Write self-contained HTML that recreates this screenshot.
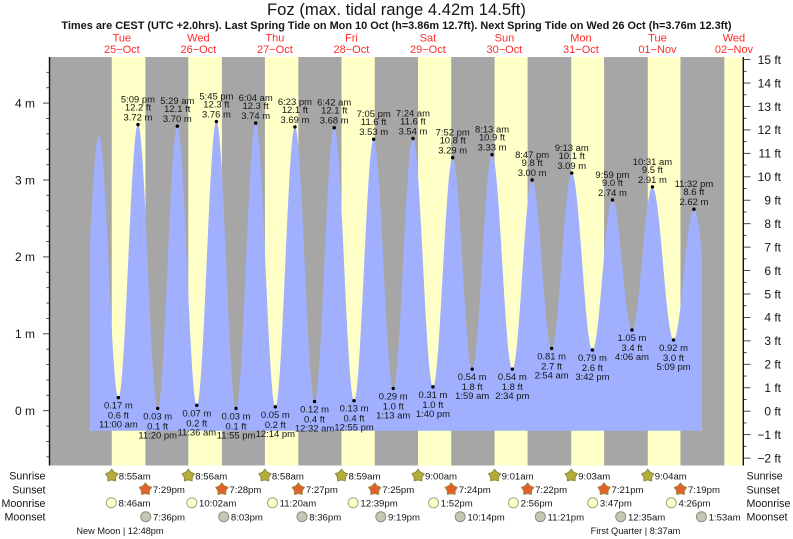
<!DOCTYPE html>
<html lang="en">
<head>
<meta charset="utf-8">
<title>Foz tide chart</title>
<style>
html,body{margin:0;padding:0;background:#fff;width:793px;height:539px;overflow:hidden}
svg{display:block;font-family:"Liberation Sans",sans-serif;filter:blur(0.3px)}
text{fill:#151515}
</style>
</head>
<body>
<svg id="chart" xmlns="http://www.w3.org/2000/svg" width="793" height="539" viewBox="0 0 793 539">
  <text x="396.5" y="15" text-anchor="middle" font-size="16.65">Foz (max. tidal range 4.42m 14.5ft)</text>
  <text x="396.5" y="29" text-anchor="middle" font-size="10.93" font-weight="bold">Times are CEST (UTC +2.0hrs). Last Spring Tide on Mon 10 Oct (h=3.86m 12.7ft). Next Spring Tide on Wed 26 Oct (h=3.76m 12.3ft)</text>
  <rect x="50" y="57" width="693" height="408.5" fill="#a6a6a6"/>
  <g id="bands"></g>
  <path id="tide" fill="#a0b0ff"></path>
  <g id="axes"></g>
  <g id="days"></g>
  <g id="marks"></g>
  <g id="astro"></g>
  <text x="120" y="534" text-anchor="middle" font-size="9.2">New Moon | 12:48pm</text>
  <text x="635.5" y="534" text-anchor="middle" font-size="9.2">First Quarter | 8:37am</text>
</svg>
<script>
// Tide extremes. Entries with an empty feet label are unlabelled lead-in / lead-out turning points.
const tideDays = [-1,0,0,0,0,1,1,1,1,2,2,2,3,3,3,3,4,4,4,4,5,5,5,5,6,6,6,6,7,7,7,7,8];
const tideTimes = ["10:42 pm","4:55 am","11:00 am","5:09 pm","11:20 pm","5:29 am","11:36 am","5:45 pm","11:55 pm","6:04 am","12:14 pm","6:23 pm","12:32 am","6:42 am","12:55 pm","7:05 pm","1:13 am","7:24 am","1:40 pm","7:52 pm","1:59 am","8:13 am","2:34 pm","8:47 pm","2:54 am","9:13 am","3:42 pm","9:59 pm","4:06 am","10:31 am","5:09 pm","11:32 pm","5:48 am"];
const tideMeters = [0.30,3.58,0.17,3.72,0.03,3.70,0.07,3.76,0.03,3.74,0.05,3.69,0.12,3.68,0.13,3.53,0.29,3.54,0.31,3.29,0.54,3.33,0.54,3.00,0.81,3.09,0.79,2.74,1.05,2.91,0.92,2.62,1.00];
const tideFeet = ["","","0.6","12.2","0.1","12.1","0.2","12.3","0.1","12.3","0.2","12.1","0.4","12.1","0.4","11.6","1.0","11.6","1.0","10.8","1.8","10.9","1.8","9.8","2.7","10.1","2.6","9.0","3.4","9.5","3.0","8.6",""];
const curveStartHour = 2.1;
const curveEndHour = 194.07;
const curveFloorMeters = -0.26;

const dayNames = ["Tue","Wed","Thu","Fri","Sat","Sun","Mon","Tue","Wed"];
const dayDates = ["25\u2212Oct","26\u2212Oct","27\u2212Oct","28\u2212Oct","29\u2212Oct","30\u2212Oct","31\u2212Oct","01\u2212Nov","02\u2212Nov"];
const sunriseTimes = ["8:55am","8:56am","8:58am","8:59am","9:00am","9:01am","9:03am","9:04am","9:05am"];
const sunsetTimes = ["7:29pm","7:28pm","7:27pm","7:25pm","7:24pm","7:22pm","7:21pm","7:19pm"];
const moonriseDays = [0,1,2,3,4,5,6,7];
const moonriseTimes = ["8:46am","10:02am","11:20am","12:39pm","1:52pm","2:56pm","3:47pm","4:26pm"];
const moonsetDays = [0,1,2,3,4,5,7,8];
const moonsetTimes = ["7:36pm","8:03pm","8:36pm","9:19pm","10:14pm","11:21pm","12:35am","1:53am"];
const meterTicks = [0,1,2,3,4];
const feetTicks = [-2,-1,0,1,2,3,4,5,6,7,8,9,10,11,12,13,14,15];

const NS = "http://www.w3.org/2000/svg";
const PLOT_L = 50, PLOT_R = 743, PLOT_T = 57, PLOT_B = 465.5;
function xAt(hours){ return 83.3 + hours * 3.188; }
function yAt(meters){ return 410.7 - meters * 76.9; }
function yFt(feet){ return 411.2 - feet * 23.44; }
function hourOf(day, label){
  const m = label.match(/(\d+):(\d+)\s*(am|pm)/);
  let h = (+m[1]) % 12;
  if (m[3] === "pm") h += 12;
  return day * 24 + h + (+m[2]) / 60;
}
function add(parent, tag, attrs){
  const el = document.createElementNS(NS, tag);
  for (const k in attrs) el.setAttribute(k, attrs[k]);
  parent.appendChild(el);
  return el;
}
const bands = document.getElementById("bands");
const axes = document.getElementById("axes");
const daysG = document.getElementById("days");
const marks = document.getElementById("marks");
const astro = document.getElementById("astro");

// daylight bands
sunriseTimes.forEach(function(t, i){
  const x0 = xAt(hourOf(i, t));
  const x1 = i < sunsetTimes.length ? xAt(hourOf(i, sunsetTimes[i])) : PLOT_R;
  const r = add(bands, "rect", {x:x0, y:PLOT_T, width:x1-x0, height:PLOT_B-PLOT_T, fill:"#ffffc8"});
  
  
});

// tide curve: cosine between successive turning points
const tideHours = tideTimes.map(function(t, i){ return hourOf(tideDays[i], t); });
function levelAt(h){
  for (let i = 0; i < tideHours.length - 1; i++){
    if (h >= tideHours[i] && h <= tideHours[i+1]){
      const f = (h - tideHours[i]) / (tideHours[i+1] - tideHours[i]);
      return tideMeters[i] + (tideMeters[i+1] - tideMeters[i]) * (1 - Math.cos(Math.PI * f)) / 2;
    }
  }
  return curveFloorMeters;
}
let d = "M" + xAt(curveStartHour).toFixed(2) + " " + yAt(curveFloorMeters).toFixed(2);
const sampleHours = new Set(tideHours.filter(function(h){ return h > curveStartHour && h < curveEndHour; }));
for (let h = curveStartHour; h < curveEndHour; h += 0.2) sampleHours.add(h);
sampleHours.add(curveEndHour);
Array.from(sampleHours).sort(function(a,b){ return a-b; }).forEach(function(h){
  d += "L" + xAt(h).toFixed(2) + " " + yAt(levelAt(h)).toFixed(2);
});
d += "L" + xAt(curveEndHour).toFixed(2) + " " + yAt(curveFloorMeters).toFixed(2) + "Z";
document.getElementById("tide").setAttribute("d", d);

// axes
const leftLine = add(axes, "line", {x1:49.5, x2:49.5, y1:PLOT_T, y2:PLOT_B, stroke:"#111", "stroke-width":1.4});


const rightLine = add(axes, "line", {x1:743.3, x2:743.3, y1:PLOT_T, y2:PLOT_B, stroke:"#111", "stroke-width":1.4});


for (let k = -3; k <= 23; k++){
  const m = k * 0.2;
  const y = yAt(m);
  if (y < PLOT_T || y > PLOT_B) continue;
  const major = k % 5 === 0;
  const tk = add(axes, "line", {x1:major ? 43 : 46.5, x2:49.5, y1:y, y2:y, stroke:"#333", "stroke-width":0.9});
  
  
}
meterTicks.forEach(function(m){
  const t = add(axes, "text", {x:35, y:yAt(m)+4.3, "text-anchor":"end", "font-size":12});
  t.textContent = m + " m";
  
  
});
for (let k = -5; k <= 30; k++){
  const y = yFt(k / 2);
  if (y < PLOT_T || y > PLOT_B) continue;
  const major = k % 2 === 0;
  const tk = add(axes, "line", {x1:743.3, x2:major ? 750.5 : 746.5, y1:y, y2:y, stroke:"#333", "stroke-width":0.9});
  
  
}
feetTicks.forEach(function(f){
  const t = add(axes, "text", {x:781, y:yFt(f)+4.3, "text-anchor":"end", "font-size":12});
  t.textContent = (f < 0 ? "\u2212" + (-f) : f) + " ft";
  
  
});

// day labels
dayNames.forEach(function(n, i){
  const x = xAt(i * 24 + 12) + 0.3;
  const a = add(daysG, "text", {x:x, y:41.5, "text-anchor":"middle", "font-size":11, style:"fill:#ff2a2a"});
  a.textContent = n;
  
  
  const b = add(daysG, "text", {x:x, y:53, "text-anchor":"middle", "font-size":11, style:"fill:#ff2a2a"});
  b.textContent = dayDates[i];
  
  
});

// extremes dots and three-line labels
tideMeters.forEach(function(m, i){
  if (tideFeet[i] === "") return;
  const x = xAt(tideHours[i]);
  const y = yAt(m);
  const isHigh = m > tideMeters[i-1];
  const dot = add(marks, "circle", {cx:x, cy:y, r:1.7, fill:"#000"});
  
  
  const mText = m.toFixed(2) + " m";
  const ftText = tideFeet[i] + " ft";
  const lines = isHigh ? [[tideTimes[i], -22], [ftText, -14], [mText, -4]]
                       : [[mText, 11], [ftText, 21], [tideTimes[i], 30]];
  lines.forEach(function(l){
    const t = add(marks, "text", {x:x, y:y+l[1], "text-anchor":"middle", "font-size":9.45});
    t.textContent = l[0];
    
    
  });
});

// astronomy rows
function star(cx, cy, fill, stroke){
  let pts = [];
  for (let i = 0; i < 10; i++){
    const r = i % 2 === 0 ? 6.4 : 4.2;
    const a = -Math.PI / 2 + i * Math.PI / 5;
    pts.push((cx + r * Math.cos(a)).toFixed(2) + "," + (cy + r * Math.sin(a)).toFixed(2));
  }
  return add(astro, "polygon", {points:pts.join(" "), fill:fill, stroke:stroke, "stroke-width":1});
}
function astroLabel(x, y, label){
  const t = add(astro, "text", {x:x, y:y, "font-size":9.6});
  t.textContent = label;
  
  
}
const ROW_RISE = 475.7, ROW_SET = 489.3, ROW_MR = 502.8, ROW_MS = 516.7;
sunriseTimes.slice(0, 8).forEach(function(t, i){
  const x = xAt(hourOf(i, t));
  const s = star(x, ROW_RISE, "#b4ad3a", "#8f8a40");
  
  
  astroLabel(x + 7, ROW_RISE + 3.7, t);
});
sunsetTimes.forEach(function(t, i){
  const x = xAt(hourOf(i, t));
  const s = star(x, ROW_SET, "#e2602a", "#a08a40");
  
  
  astroLabel(x + 7.5, ROW_SET + 3.7, t);
});
moonriseTimes.forEach(function(t, i){
  const x = xAt(hourOf(moonriseDays[i], t));
  const c = add(astro, "circle", {cx:x, cy:ROW_MR, r:5, fill:"#ffffc8", stroke:"#a5a58a", "stroke-width":1});
  
  
  astroLabel(x + 7.2, ROW_MR + 3.7, t);
});
moonsetTimes.forEach(function(t, i){
  const x = xAt(hourOf(moonsetDays[i], t));
  const c = add(astro, "circle", {cx:x, cy:ROW_MS, r:5, fill:"#c6c6b4", stroke:"#8f8f80", "stroke-width":1});
  
  
  astroLabel(x + 7.2, ROW_MS + 3.7, t);
});
[["Sunrise",ROW_RISE],["Sunset",ROW_SET],["Moonrise",ROW_MR],["Moonset",ROW_MS]].forEach(function(r){
  const l = add(astro, "text", {x:45.5, y:r[1]+4, "text-anchor":"end", "font-size":10.7});
  l.textContent = r[0];
  
  
  const e = add(astro, "text", {x:746.5, y:r[1]+4, "font-size":10.7});
  e.textContent = r[0];
  
  
});
</script>
</body>
</html>
